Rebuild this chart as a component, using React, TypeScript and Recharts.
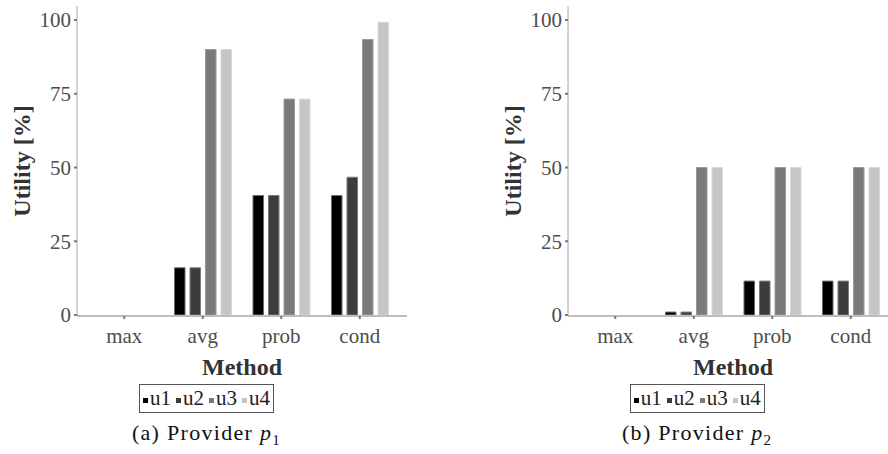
import React from 'react';
import { BarChart, Bar, XAxis, YAxis } from 'recharts';

const methods = ['max', 'avg', 'prob', 'cond'];
const seriesNames = ['u1', 'u2', 'u3', 'u4'];
const seriesColors = ['#000000', '#3c3c3c', '#7a7a7a', '#c6c6c6'];
const seriesStrokes = ['#6a6a6a', '#7a7a7a', '#9a9a9a', '#d8d8d8'];

const p1u1 = [0, 16, 40.5, 40.5];
const p1u2 = [0, 16, 40.5, 46.7];
const p1u3 = [0, 90, 73.2, 93.4];
const p1u4 = [0, 90, 73.2, 99.2];

const p2u1 = [0, 1, 11.5, 11.5];
const p2u2 = [0, 1, 11.5, 11.5];
const p2u3 = [0, 50, 50, 50];
const p2u4 = [0, 50, 50, 50];

const yTicks = [0, 25, 50, 75, 100];

const buildData = (u1: number[], u2: number[], u3: number[], u4: number[]) =>
  methods.map((m, i) => ({ method: m, u1: u1[i], u2: u2[i], u3: u3[i], u4: u4[i] }));

const data1 = buildData(p1u1, p1u2, p1u3, p1u4);
const data2 = buildData(p2u1, p2u2, p2u3, p2u4);

const SERIF = 'Liberation Serif';
const TICK_COLOR = '#4d4d4d';
const BORDER = '#a8a8a8';

function Panel({ data, left, caption, sub }: { data: any[]; left: number; caption: string; sub: string }) {
  return (
    <div style={{ position: 'absolute', left, top: 0, width: 420, height: 454 }}>
      <BarChart
        width={420}
        height={454}
        data={data}
        margin={{ top: 6, right: 13, left: 0, bottom: 98 }}
        barSize={10.5}
        barGap={5}
      >
        <XAxis
          dataKey="method"
          padding={{ left: 8, right: 8 }}
          height={40}
          tickSize={3}
          tickMargin={9}
          axisLine={{ stroke: '#bdbdbd', strokeWidth: 2 }}
          tickLine={{ stroke: '#777', strokeWidth: 2 }}
          tick={{ fill: TICK_COLOR, fontFamily: SERIF, fontSize: 21 }}
          label={{
            content: () => (
              <text
                x={242}
                y={367}
                textAnchor="middle"
                dominantBaseline="central"
                fill="#333"
                fontFamily={SERIF}
                fontSize={24}
                fontWeight="bold"
              >
                Method
              </text>
            ),
          }}
        />
        <YAxis
          width={77}
          domain={[-0.34, 104.75]}
          ticks={yTicks}
          allowDataOverflow
          tickSize={3}
          tickMargin={3}
          axisLine={{ stroke: BORDER, strokeWidth: 1 }}
          tickLine={{ stroke: '#777', strokeWidth: 2 }}
          tick={{ fill: TICK_COLOR, fontFamily: SERIF, fontSize: 21 }}
          label={{
            content: () => (
              <text
                x={22}
                y={161}
                transform="rotate(-90 22 161)"
                textAnchor="middle"
                dominantBaseline="central"
                fill="#333"
                fontFamily={SERIF}
                fontSize={24}
                fontWeight="bold"
              >
                Utility [%]
              </text>
            ),
          }}
        />
        <XAxis
          xAxisId="top"
          orientation="top"
          dataKey="method"
          height={0}
          tick={false}
          tickLine={false}
          axisLine={{ stroke: BORDER, strokeWidth: 1 }}
        />
        <YAxis
          yAxisId="right"
          orientation="right"
          width={0}
          domain={[0, 1]}
          tick={false}
          tickLine={false}
          axisLine={{ stroke: BORDER, strokeWidth: 1 }}
        />
        {seriesNames.map((s, i) => (
          <Bar
            key={s}
            dataKey={s}
            fill={seriesColors[i]}
            stroke={seriesStrokes[i]}
            strokeWidth={1}
            isAnimationActive={false}
          />
        ))}
      </BarChart>
      <div
        style={{
          position: 'absolute',
          left: 0,
          width: 413,
          top: 384,
          display: 'flex',
          justifyContent: 'center',
        }}
      >
        <div
          style={{
            border: '1px solid #555',
            height: 27,
            padding: '0 3px',
            display: 'flex',
            alignItems: 'center',
            fontFamily: SERIF,
            fontSize: 21,
            color: '#222',
            gap: 5,
          }}
        >
          {seriesNames.map((s, i) => (
            <div key={s} style={{ display: 'flex', alignItems: 'center' }}>
              <span
                style={{
                  display: 'inline-block',
                  width: 5,
                  height: 5,
                  background: seriesColors[i],
                  marginRight: 2,
                  marginTop: 3,
                }}
              />
              <span>{s}</span>
            </div>
          ))}
        </div>
      </div>
      <div
        style={{
          position: 'absolute',
          left: 0,
          width: 413,
          top: 420,
          textAlign: 'center',
          fontFamily: SERIF,
          fontSize: 22,
          letterSpacing: 1.3,
          color: '#111',
          whiteSpace: 'nowrap',
        }}
      >
        {caption} <i>p</i>
        <sub style={{ fontSize: 15 }}>{sub}</sub>
      </div>
    </div>
  );
}

export default function App() {
  return (
    <div
      style={{
        position: 'absolute',
        left: 0,
        top: 0,
        width: 888,
        height: 454,
        overflow: 'hidden',
        background: '#fff',
      }}
    >
      <Panel data={data1} left={0} caption="(a) Provider" sub="1" />
      <Panel data={data2} left={490.7} caption="(b) Provider" sub="2" />
    </div>
  );
}
